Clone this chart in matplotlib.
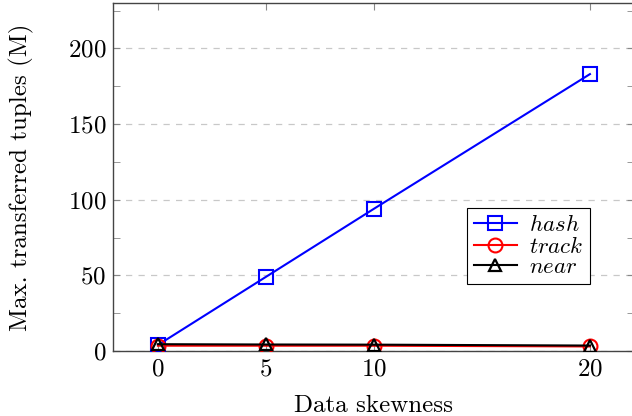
import matplotlib
matplotlib.use("Agg")
import matplotlib.pyplot as plt
from matplotlib.ticker import MultipleLocator

skew = [0, 5, 10, 20]
hash_vals = [4, 49, 94, 183]
track_vals = [3.5, 3.5, 3.5, 3]
near_vals = [4.5, 4.3, 4.2, 3.6]

plt.rcParams['font.family'] = ['cmr10', 'DejaVu Serif']
plt.rcParams['mathtext.fontset'] = 'cm'
plt.rcParams['axes.formatter.use_mathtext'] = True

fig = plt.figure(figsize=(6.32, 4.16), dpi=100)
ax = fig.add_axes([113/632, 1-351/416, 521/632, 348/416])

ax.plot(skew, hash_vals, color='#0000ff', lw=1.5, marker='s', ms=10, mfc='none', mew=1.5, label=r'$\mathit{hash}$', zorder=3)
ax.plot(skew, track_vals, color='#ff0000', lw=1.5, marker='o', ms=10, mfc='none', mew=1.5, label=r'$\mathit{track}$', zorder=4)
ax.plot(skew, near_vals, color='black', lw=1.5, marker='^', ms=9, mfc='none', mew=1.6, label=r'$\mathit{near}$', zorder=5)

ax.set_xlim(-2.08, 22.04)
ax.set_ylim(0, 230)
ax.set_xticks(skew)
ax.yaxis.set_major_locator(MultipleLocator(50))
ax.yaxis.set_minor_locator(MultipleLocator(25))
ax.tick_params(axis='both', which='both', direction='in', top=True, right=True, color='#888888', labelsize=18, pad=5)
ax.tick_params(which='major', length=5)
ax.tick_params(which='minor', length=5)
ax.tick_params(axis='x', which='minor', bottom=False, top=False)
for s in ax.spines.values():
    s.set_color('#444444')
    s.set_linewidth(1.0)
ax.grid(axis='y', which='major', color='#c8c8c8', ls=(0, (5, 5)), lw=0.9)
ax.set_axisbelow(True)

ax.set_xlabel('Data skewness', fontsize=18, labelpad=11)
ax.set_ylabel('Max. transferred tuples (M)', fontsize=18, labelpad=24)

leg = ax.legend(loc='center', bbox_to_anchor=(0.798, 0.302), fontsize=16.5, frameon=True, fancybox=False,
                edgecolor='black', framealpha=1, borderpad=0.3, labelspacing=0.02, handlelength=1.85,
                handletextpad=0.55, borderaxespad=0)
leg.get_frame().set_linewidth(0.8)

fig.savefig('out.png', dpi=100)
